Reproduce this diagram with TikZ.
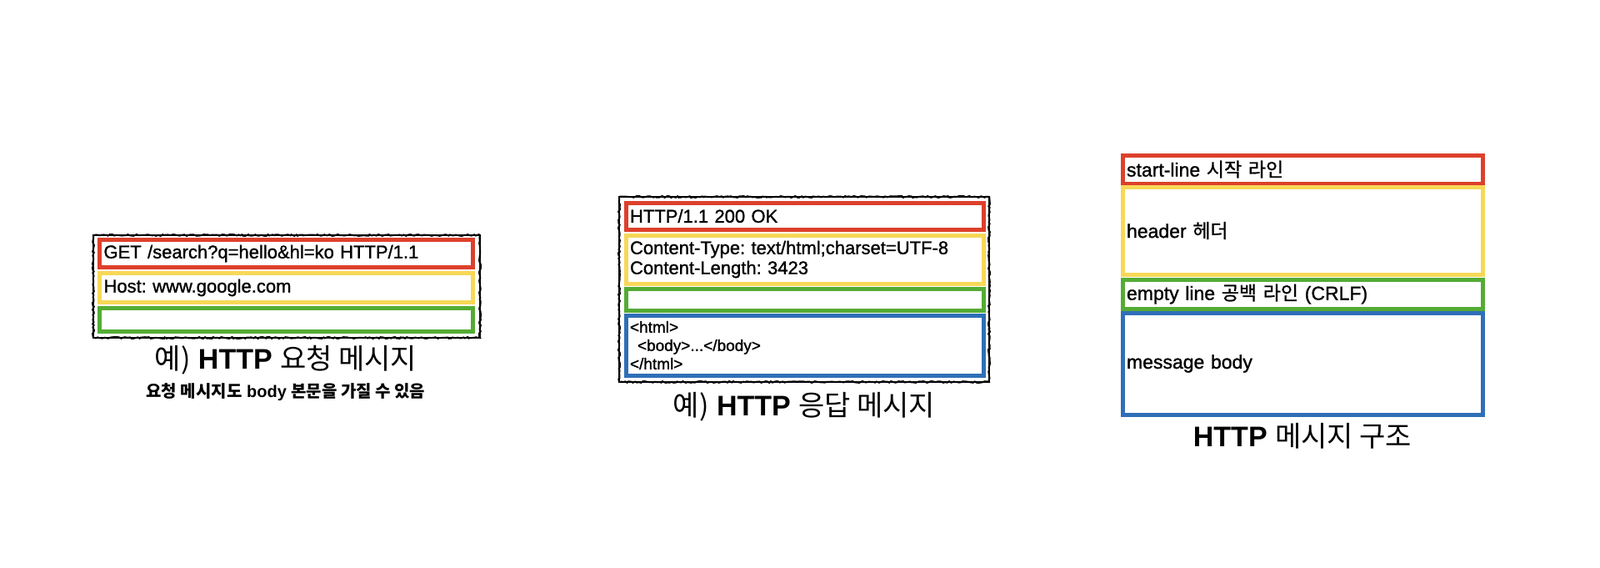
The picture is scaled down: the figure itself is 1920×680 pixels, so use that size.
\documentclass[tikz,border=0pt]{standalone}
\usepackage{fontspec}
\setmainfont{Liberation Sans}
\newfontfamily\boxfont{Liberation Sans}[FakeBold=1.2]
\newfontfamily\kr{Noto Sans CJK KR}
\newfontfamily\krbox{Noto Sans CJK KR}[FakeBold=1]
\usetikzlibrary{decorations.pathmorphing}
\definecolor{linered}{RGB}{221,64,43}
\definecolor{headyellow}{RGB}{247,216,88}
\definecolor{emptygreen}{RGB}{84,172,52}
\definecolor{bodyblue}{RGB}{47,111,183}
\frenchspacing

\begin{document}
\begin{tikzpicture}[x=0.5pt,y=-0.5pt]
\tikzstyle{every node}+=[inner sep=0pt, outer sep=0pt]
\tikzstyle{field}=[draw, line width=2.5pt, anchor=north west, inner xsep=2.5pt, align=left, font=\boxfont\fontsize{11}{12}\selectfont]
\tikzstyle{rough}=[black, line width=1pt, decorate, decoration={random steps, segment length=1.2pt, amplitude=0.5pt}]
\tikzstyle{title}=[font=\fontsize{17}{20}\selectfont]
\useasboundingbox (0,0) rectangle (1920,680);
\draw [rough] (112,282) rectangle (576,405);
\draw [black, line width=0.6pt] (112,282) rectangle (576,405);
\node (reqstart) [field, draw=linered, text width=219pt, minimum height=16.5pt] at (119.5,287.5) {GET /search?q=hello\&hl=ko HTTP/1.1};
\node (reqheader) [field, draw=headyellow, text width=219pt, minimum height=17.5pt] at (119.5,327.5) {Host: www.google.com};
\node (reqempty) [field, draw=emptygreen, text width=219pt, minimum height=14pt] at (119.5,369.5) {};
\node (reqtitle) [title] at (343,432) {{\kr 예)} \textbf{HTTP} {\kr 요청 메시지}};
\node (reqnote) [font=\fontsize{10}{12}\selectfont\bfseries] at (343,470) {{\kr 요청 메시지도} body {\kr 본문을 가질 수 있음}};
\draw [rough] (743,236) rectangle (1187,458);
\draw [black, line width=0.6pt] (743,236) rectangle (1187,458);
\node (resstart) [field, draw=linered, text width=209.5pt, minimum height=16pt] at (751,243) {HTTP/1.1 200 OK};
\node (resheader) [field, draw=headyellow, text width=209.5pt, minimum height=29pt] at (751,282) {Content-Type: text/html;charset=UTF-8\\Content-Length: 3423};
\node (resempty) [field, draw=emptygreen, text width=209.5pt, minimum height=13pt] at (751,346) {};
\node (resbody) [field, draw=bodyblue, text width=209.5pt, minimum height=36pt, font=\boxfont\fontsize{9.5}{11}\selectfont] at (751,378) {<html>\\\hspace*{4.5pt}<body>...</body>\\</html>};
\node (restitle) [title] at (965,488) {{\kr 예)} \textbf{HTTP} {\kr 응답 메시지}};
\node (start) [field, draw=linered, text width=211pt, minimum height=17pt, font=\boxfont\fontsize{11.5}{13}\selectfont] at (1347,186) {start-line {\krbox 시작 라인}};
\node (header) [field, draw=headyellow, text width=211pt, minimum height=52.5pt, font=\boxfont\fontsize{11.5}{13}\selectfont] at (1347,224) {header {\krbox 헤더}};
\node (empty) [field, draw=emptygreen, text width=211pt, minimum height=17.5pt, font=\boxfont\fontsize{11.5}{13}\selectfont] at (1347,335) {empty line {\krbox 공백 라인} (CRLF)};
\node (body) [field, draw=bodyblue, text width=211pt, minimum height=61pt, font=\boxfont\fontsize{11.5}{13}\selectfont] at (1347,375) {message body};
\node (structtitle) [title] at (1563,523) {\textbf{HTTP} {\kr 메시지 구조}};
\end{tikzpicture}
\end{document}
